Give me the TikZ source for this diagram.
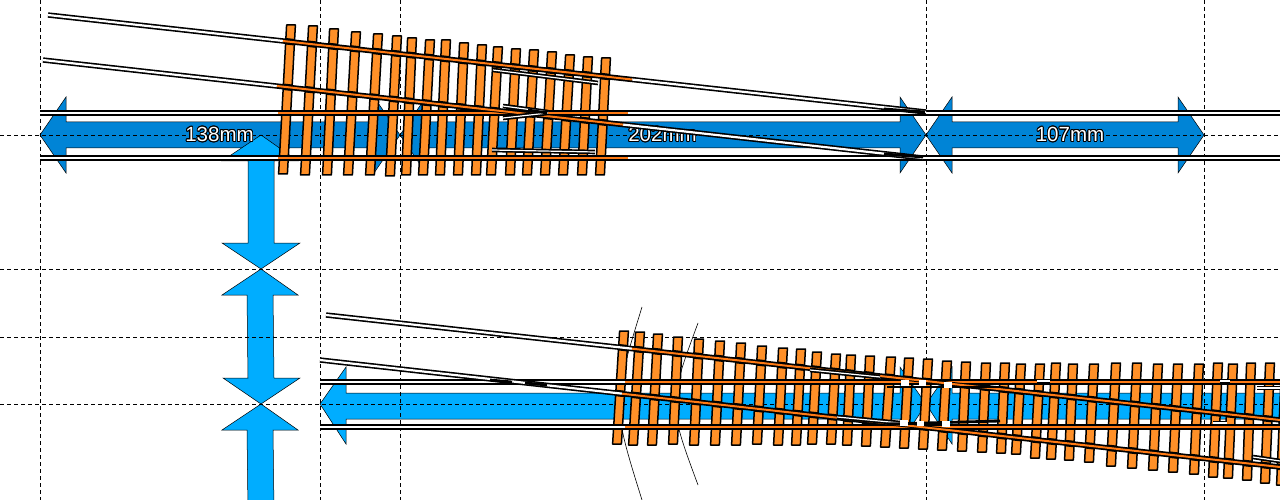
\documentclass[tikz,border=0pt]{standalone}
\usepackage{fontspec}
\setmainfont{Liberation Sans}
\usepackage[copies]{contour}
\contourlength{0.9pt}
\definecolor{bandblue}{HTML}{0084D6}
\definecolor{lightblue}{HTML}{00ADFF}
\definecolor{tieorange}{HTML}{FF9028}
\definecolor{railorange}{HTML}{FF7A14}

\begin{document}
\begin{tikzpicture}[
    x=1pt, y=-1pt,
    % Styles for each part of the plan
    gridline/.style={black, line width=0.8pt, dash pattern=on 4pt off 3pt},
    upperband/.style={draw=black, line width=0.5pt, fill=bandblue},
    lowerband/.style={draw=black, line width=0.5pt, fill=lightblue},
    sleeper/.style={draw=black, line width=1.5pt, fill=tieorange, line join=round},
    chair/.style={draw=black, line width=6.5pt},
    rail/.style={draw=black, line width=1.6pt, double=white, double distance=2.2pt},
    hotrail/.style={draw=black, line width=1.4pt, double=railorange, double distance=2.8pt},
    slimrail/.style={draw=black, line width=1pt, double=railorange, double distance=2pt},
    wing/.style={draw=black, line width=1.7pt, double=white, double distance=1.2pt},
    guard/.style={draw=black, line width=2.8pt},
    sweep/.style={draw=black, line width=0.6pt},
    dimlabel/.style={text=white, font=\fontsize{20.5}{24}\selectfont, inner sep=0pt}
]
\useasboundingbox (0,0) rectangle (1280,500);

% Width arrows of the upper plan
\draw[upperband] (40,135) -- (66,97) -- (66,122) -- (374,122) -- (374,97) -- (400,135) -- (374,173) -- (374,148) -- (66,148) -- (66,173) -- cycle;
\draw[upperband] (400,135) -- (426,97) -- (426,122) -- (900,122) -- (900,97) -- (926,135) -- (900,173) -- (900,148) -- (426,148) -- (426,173) -- cycle;
\draw[upperband] (926,135) -- (952,97) -- (952,122) -- (1178,122) -- (1178,97) -- (1204,135) -- (1178,173) -- (1178,148) -- (952,148) -- (952,173) -- cycle;

% Arrows of the lower plan
\draw[lowerband] (320,404) -- (346,367) -- (346,393) -- (900,393) -- (900,367) -- (926,404) -- (900,444) -- (900,419) -- (346,419) -- (346,444) -- cycle;
\draw[lowerband] (926,404) -- (952,367) -- (952,393) -- (1290,393) -- (1290,419) -- (952,419) -- (952,444) -- cycle;

% Vertical arrows
\draw[lowerband] (261,135) -- (298,161) -- (274,161) -- (274,243) -- (300,243) -- (261,269) -- (222,243) -- (248,243) -- (248,161) -- (222,161) -- cycle;
\draw[lowerband] (261,269) -- (298,295) -- (273,295) -- (274,378) -- (300,378) -- (261,404) -- (223,378) -- (248,378) -- (247,295) -- (222,295) -- cycle;
\draw[lowerband] (261,404) -- (298,430) -- (273,430) -- (274,510) -- (248,510) -- (247,430) -- (222,430) -- cycle;

% Dashed grid
\draw[gridline] (40,0) -- (40,500);
\draw[gridline] (320,0) -- (320,500);
\draw[gridline] (400,0) -- (400,500);
\draw[gridline] (926,0) -- (926,500);
\draw[gridline] (1204,0) -- (1204,500);
\draw[gridline] (0,135) -- (1280,135);
\draw[gridline] (0,269) -- (1280,269);
\draw[gridline] (0,337) -- (1280,337);
\draw[gridline] (0,404) -- (1280,404);

% Lengths
\node[dimlabel] (lenfirst) at (219.5,135) {\contour{black}{138mm}};
\node[dimlabel] (lensecond) at (662.5,135) {\contour{black}{202mm}};
\node[dimlabel] (lenthird) at (1070,135) {\contour{black}{107mm}};

% Sweep arcs
\draw[sweep] (642,307) .. controls (612,404) .. (642,500);
\draw[sweep] (698,323) .. controls (668,404) .. (698,485);

% Sleepers of the upper turnout
\foreach \xa/\ya/\xb/\yb in {291/25/283/174, 313/26/305/175, 334/29/327/175, 356/32/348/175, 378/34/370/175, 397/36/390/176, 412/38/406/175, 430/40/423/175, 446/40/440/175, 464/43/458/175, 482/45/476/175, 498/47/491/175, 516/49/510/175, 534/50/527/175, 552/52/545/175, 570/55/563/175, 588/57/582/175, 606/58/600/175}{
    \draw[sleeper] ({\xa-4.4},\ya) -- ({\xa+4.4},\ya) -- ({\xb+4.4},\yb) -- ({\xb-4.4},\yb) -- cycle;
    \begin{scope}
        \clip ({\xa-4.4},\ya) -- ({\xa+4.4},\ya) -- ({\xb+4.4},\yb) -- ({\xb-4.4},\yb) -- cycle;
        \draw[chair] (40,113) -- (1280,113);
        \draw[chair] (40,158) -- (1280,158);
        \draw[chair] (48,15) -- (926,112);
        \draw[chair] (43,60) -- (923,158);
    \end{scope}
}

% Sleepers of the lower turnouts
\foreach \xa/\ya/\xb/\yb in {624/331/617/444, 640/332/633/445, 658/334/652/445, 678/337/673/444, 699/339/694/445, 720/341/715/445, 741/343/736/445, 762/346/757/444, 783/348/778/445, 801/349/796/445, 817/352/812/444, 836/354/831/444, 851/355/847/445, 870/356/866/446, 891/357/885/447, 909/358/904/448, 928/359/923/449, 947/361/942/450, 966/362/962/451, 986/363/982/452, 1005/363/1001/453, 1021/364/1016/454, 1040/364/1035/458, 1056/363/1051/459, 1073/364/1069/460, 1094/364/1089/462, 1116/363/1111/466, 1137/363/1132/468, 1158/364/1153/470, 1178/364/1173/472, 1199/364/1194/474, 1218/363/1213/477, 1233/364/1228/478, 1251/363/1247/480, 1270/363/1265/483, 1286/363/1281/485}{
    \draw[sleeper] ({\xa-4.4},\ya) -- ({\xa+4.4},\ya) -- ({\xb+4.4},\yb) -- ({\xb-4.4},\yb) -- cycle;
    \begin{scope}
        \clip ({\xa-4.4},\ya) -- ({\xa+4.4},\ya) -- ({\xb+4.4},\yb) -- ({\xb-4.4},\yb) -- cycle;
        \draw[chair] (320,382) -- (1280,382);
        \draw[chair] (320,427) -- (1280,427);
        \draw[chair] (326,315) -- (1280,420);
        \draw[chair] (320,360) -- (1280,467);
    \end{scope}
}

% Rails of the upper plan
\draw[rail] (40,113) -- (1280,113);
\draw[rail] (40,158) -- (1280,158);
\draw[rail] (48,15) -- (926,112);
\draw[rail] (43,60) -- (923,158);
\draw[hotrail] (278,113) -- (628,113);
\draw[hotrail] (278,158) -- (628,158);
\draw[slimrail] (283,41) -- (632,79.5);
\draw[slimrail] (277,86) -- (623,124.6);

% Frog and check rails of the upper turnout
\draw[wing] (493,70) -- (598,83);
\draw[wing] (492,150) -- (595,152);
\draw[wing] (503,106) -- (548,112);
\draw[wing] (503,118) -- (548,113);
\draw[guard] (528,110) -- (547,113);
\draw[guard] (884,109) -- (925,112);
\draw[guard] (884,154) -- (923,157);

% Rails of the lower plan
\draw[rail] (320,382) -- (1280,382);
\draw[rail] (320,427) -- (1280,427);
\draw[rail] (326,315) -- (1280,420);
\draw[rail] (320,360) -- (1280,467);
\draw[guard] (490,380) -- (512,382);
\draw[guard] (525,383) -- (547,385);
\draw[hotrail] (625,382) -- (1280,382);
\draw[hotrail] (625,427) -- (1280,427);
\draw[slimrail] (632,348.7) -- (1280,420);
\draw[slimrail] (622,393.7) -- (1280,467);

% Frog and check rails of the lower turnouts
\draw[wing] (810,370) -- (880,377);
\draw[wing] (837,417) -- (900,423);
\draw[guard] (887,387) -- (1000,387);
\draw[guard] (887,424) -- (1000,421);
\draw[wing] (1037,381) -- (1050,381);
\draw[wing] (1220,381) -- (1230,381);
\draw[wing] (1213,423) -- (1227,423);
\draw[wing] (1257,388) -- (1280,388);
\draw[wing] (1253,457) -- (1280,461);
\fill[white] (901,380) rectangle (909,386);
\fill[white] (919,380) rectangle (926,386);
\fill[white] (944,382) rectangle (952,388);
\fill[white] (900,420) rectangle (908,426);
\fill[white] (917,421) rectangle (924,426);
\fill[white] (942,421) rectangle (950,427);

\end{tikzpicture}
\end{document}
